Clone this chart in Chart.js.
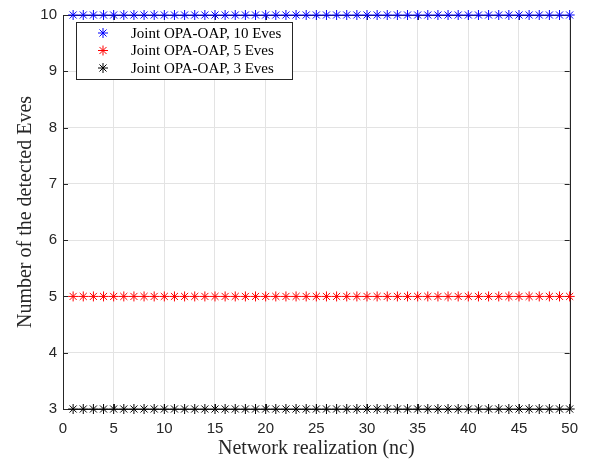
<!DOCTYPE html>
<html><head><meta charset="utf-8">
<script src="https://cdn.jsdelivr.net/npm/chart.js@4/dist/chart.umd.min.js"></script>
<style>html,body{margin:0;padding:0;background:#fff}#w{width:589px;height:461px}</style>
</head><body><div id="w"><canvas id="c"></canvas></div>
<script>
const realizations = Array.from({length:50}, (_, i) => i + 1);
const detected10 = [10,10,10,10,10,10,10,10,10,10,10,10,10,10,10,10,10,10,10,10,10,10,10,10,10,10,10,10,10,10,10,10,10,10,10,10,10,10,10,10,10,10,10,10,10,10,10,10,10,10];
const detected5 = [5,5,5,5,5,5,5,5,5,5,5,5,5,5,5,5,5,5,5,5,5,5,5,5,5,5,5,5,5,5,5,5,5,5,5,5,5,5,5,5,5,5,5,5,5,5,5,5,5,5];
const detected3 = [3,3,3,3,3,3,3,3,3,3,3,3,3,3,3,3,3,3,3,3,3,3,3,3,3,3,3,3,3,3,3,3,3,3,3,3,3,3,3,3,3,3,3,3,3,3,3,3,3,3];
const seriesLabels = ['Joint OPA-OAP, 10 Eves','Joint OPA-OAP, 5 Eves','Joint OPA-OAP, 3 Eves'];
const seriesColors = ['#0000ff','#ff0000','#000000'];
const xTitle = 'Network realization (nc)';
const yTitle = 'Number of the detected Eves';

const mk = (vals, i) => ({
  label: seriesLabels[i],
  data: realizations.map((x, k) => ({x, y: vals[k]})),
  borderColor: seriesColors[i], backgroundColor: seriesColors[i],
  showLine: false, pointStyle: 'star', pointRadius: 5, pointBorderWidth: 1,
  clip: false
});

const framePlugin = {
  id: 'frame',
  beforeDatasetsDraw(chart) {
    const {ctx, chartArea: a, scales: {x, y}} = chart;
    ctx.save();
    ctx.strokeStyle = '#262626'; ctx.lineWidth = 1;
    ctx.beginPath();
    x.ticks.forEach(t => {
      const px = Math.round(x.getPixelForValue(t.value)) + 0.5;
      ctx.moveTo(px, a.bottom); ctx.lineTo(px, a.bottom - 5);
      ctx.moveTo(px, a.top); ctx.lineTo(px, a.top + 5);
    });
    y.ticks.forEach(t => {
      const py = Math.round(y.getPixelForValue(t.value)) + 0.5;
      ctx.moveTo(a.left, py); ctx.lineTo(a.left + 5, py);
      ctx.moveTo(a.right, py); ctx.lineTo(a.right - 5, py);
    });
    ctx.stroke();
    ctx.strokeRect(Math.round(a.left)+0.5, Math.round(a.top)+0.5, Math.round(a.right - a.left), Math.round(a.bottom - a.top));
    ctx.restore();
  },
  afterDraw(chart) {
    const {ctx} = chart;
    ctx.save();
    const bx = 76.5, by = 22.5, bw = 216, bh = 57;
    ctx.fillStyle = '#fff'; ctx.fillRect(bx, by, bw, bh);
    ctx.strokeStyle = '#262626'; ctx.lineWidth = 1; ctx.strokeRect(bx, by, bw, bh);
    ctx.font = '15px "Liberation Serif", serif';
    ctx.textBaseline = 'middle';
    chart.data.datasets.forEach((d, i) => {
      const cy = 33 + i * 17.5;
      const cx = 103, r = 5;
      ctx.strokeStyle = d.borderColor; ctx.lineWidth = 1;
      ctx.beginPath();
      for (let k = 0; k < 4; k++) {
        const ang = k * Math.PI / 4;
        ctx.moveTo(cx - r * Math.cos(ang), cy - r * Math.sin(ang));
        ctx.lineTo(cx + r * Math.cos(ang), cy + r * Math.sin(ang));
      }
      ctx.stroke();
      ctx.fillStyle = '#000';
      ctx.fillText(d.label, 131, cy + 1);
    });
    ctx.restore();
  }
};

new Chart(document.getElementById('c'), {
  type: 'scatter',
  data: { datasets: [mk(detected10,0), mk(detected5,1), mk(detected3,2)] },
  options: {
    responsive: true, maintainAspectRatio: false, animation: false,
    layout: { padding: { top: 11, right: 18, left: 14, bottom: 0 } },
    plugins: { legend: { display: false }, tooltip: { enabled: false } },
    scales: {
      x: {
        type: 'linear', min: 0, max: 50,
        ticks: { stepSize: 5, color: '#262626', font: { family: '"Liberation Sans", Arial, sans-serif', size: 15 }, padding: 11, maxRotation: 0 },
        grid: { color: '#e3e3e3', drawTicks: false },
        border: { display: false },
        title: { display: true, text: xTitle, color: '#262626', font: { family: '"Liberation Serif", serif', size: 20 }, padding: { top: 0, bottom: 0 } },
        afterFit(s) { s.height = 52; }
      },
      y: {
        min: 3, max: 10,
        ticks: { stepSize: 1, color: '#262626', font: { family: '"Liberation Sans", Arial, sans-serif', size: 15 }, padding: 6 },
        grid: { color: '#e3e3e3', drawTicks: false },
        border: { display: false },
        title: { display: true, text: yTitle, color: '#262626', font: { family: '"Liberation Serif", serif', size: 20 }, padding: { top: 0, bottom: 4 } },
        afterFit(s) { s.width = 49; }
      }
    }
  },
  plugins: [framePlugin]
});
</script></body></html>
